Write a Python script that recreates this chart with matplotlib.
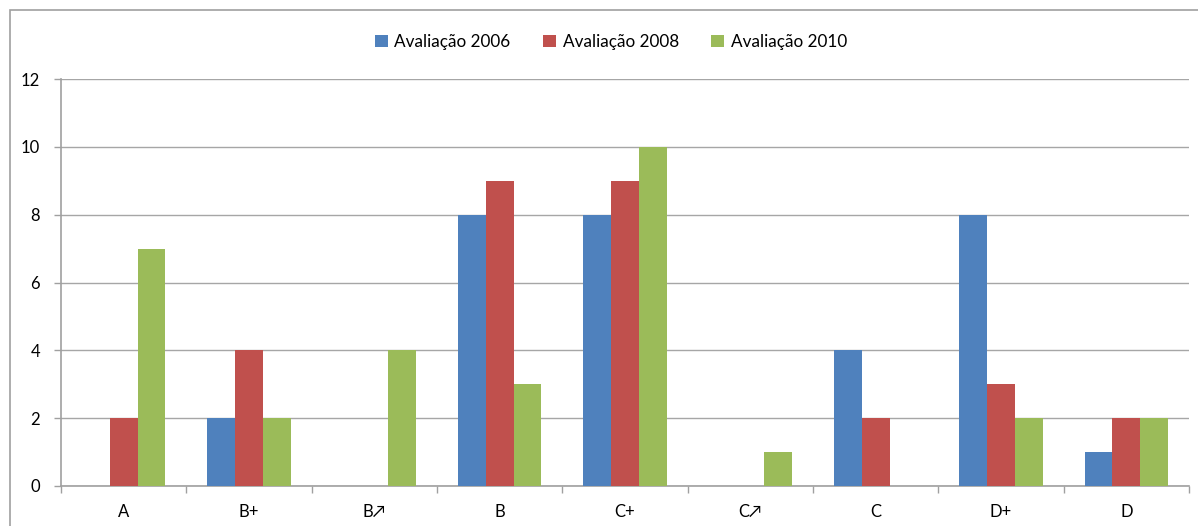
import matplotlib
matplotlib.use("Agg")
import matplotlib.pyplot as plt
from matplotlib.patches import Rectangle
import numpy as np

categories = ["A", "B+", "B\u2197", "B", "C+", "C\u2197", "C", "D+", "D"]
series_names = ["Avaliação 2006", "Avaliação 2008", "Avaliação 2010"]
values_2006 = [0, 2, 0, 8, 8, 0, 4, 8, 1]
values_2008 = [2, 4, 0, 9, 9, 0, 2, 3, 2]
values_2010 = [7, 2, 4, 3, 10, 1, 0, 2, 2]
colors = ["#4F81BD", "#C0504D", "#9BBB59"]

plt.rcParams["font.family"] = ["Lato", "DejaVu Sans"]

fig = plt.figure(figsize=(11.98, 5.26), dpi=100)
ax = fig.add_axes([61 / 1198, 1 - 486 / 526, (1189 - 61) / 1198, (486 - 79) / 526])

# outer chart frame
fig.patches.append(Rectangle((10 / 1198, -0.1), 1.2, 0.981 + 0.1, transform=fig.transFigure,
                             fill=False, edgecolor="#A0A0A0", linewidth=1.2, zorder=0))

x = np.arange(len(categories))
width = 0.221
for i, (vals, name, c) in enumerate(zip([values_2006, values_2008, values_2010], series_names, colors)):
    ax.bar(x + (i - 1) * width, vals, width, color=c, label=name, zorder=3)

ax.set_xlim(-0.5, len(categories) - 0.5)
ax.set_ylim(0, 12)
ax.set_yticks(range(0, 13, 2))
ax.yaxis.grid(True, color="#A6A6A6", linewidth=1.0, zorder=0)
ax.set_axisbelow(True)

ax.set_xticks(x)
ax.set_xticklabels(categories, fontsize=12)
ax.set_xticks(np.arange(-0.5, len(categories)), minor=True)
ax.tick_params(axis="x", which="major", length=0, pad=13)
ax.tick_params(axis="x", which="minor", length=5, color="#A0A0A0", width=1)
ax.tick_params(axis="y", length=5, color="#A0A0A0", width=1, labelsize=12, pad=10)

for s in ["top", "right"]:
    ax.spines[s].set_visible(False)
for s in ["left", "bottom"]:
    ax.spines[s].set_color("#A0A0A0")
    ax.spines[s].set_linewidth(1.2)

fig.legend(loc="center", bbox_to_anchor=(0.51, 1 - 42 / 526), ncol=3, frameon=False,
           fontsize=12.3, handlelength=0.75, handleheight=0.75, handletextpad=0.4,
           columnspacing=1.9)

fig.savefig("out.png", dpi=100)
